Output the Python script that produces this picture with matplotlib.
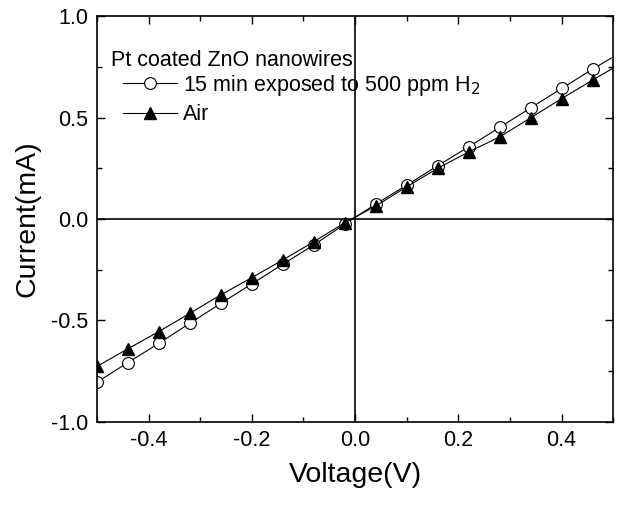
import matplotlib
matplotlib.use("Agg")
import matplotlib.pyplot as plt
from matplotlib.ticker import MultipleLocator

plt.rcParams['font.family'] = ['Liberation Sans', 'DejaVu Sans']
plt.rcParams['axes.unicode_minus'] = False

# voltage points (last point has no marker, line runs to the frame edge)
voltage = [-0.50, -0.44, -0.38, -0.32, -0.26, -0.20, -0.14, -0.08, -0.02,
           0.04, 0.10, 0.16, 0.22, 0.28, 0.34, 0.40, 0.46, 0.50]
current_h2 = [-0.805, -0.708, -0.613, -0.514, -0.416, -0.320, -0.223, -0.128, -0.025,
              0.074, 0.167, 0.263, 0.356, 0.452, 0.548, 0.644, 0.739, 0.800]
current_air = [-0.727, -0.640, -0.555, -0.465, -0.374, -0.289, -0.202, -0.112, -0.018,
               0.064, 0.159, 0.250, 0.331, 0.405, 0.499, 0.594, 0.685, 0.745]

legend_title = "Pt coated ZnO nanowires"
label_h2 = "15 min exposed to 500 ppm H$_2$"
label_air = "Air"

fig = plt.figure(figsize=(6.17, 5.07), dpi=100)
ax = fig.add_axes([0.157, 0.168, 0.837, 0.800])

marks = list(range(len(voltage) - 1))
ax.plot(voltage, current_h2, color="black", lw=0.8, marker="o", ms=8.5,
        mfc="white", mec="black", mew=0.8, markevery=marks, label=label_h2)
ax.plot(voltage, current_air, color="black", lw=0.8, marker="^", ms=9,
        mfc="black", mec="black", markevery=marks, label=label_air)

ax.axhline(0, color="black", lw=1.2, zorder=0)
ax.axvline(0, color="black", lw=1.2, zorder=0)

ax.set_xlim(-0.5, 0.5)
ax.set_ylim(-1.0, 1.0)
ax.xaxis.set_major_locator(MultipleLocator(0.2))
ax.xaxis.set_minor_locator(MultipleLocator(0.1))
ax.yaxis.set_major_locator(MultipleLocator(0.5))
ax.yaxis.set_minor_locator(MultipleLocator(0.25))
ax.tick_params(which="both", direction="in", top=True, right=True,
               labelsize=15.5, width=1.0)
ax.tick_params(which="major", length=6, pad=6)
ax.tick_params(which="minor", length=3.5)
for s in ax.spines.values():
    s.set_linewidth(1.2)

ax.set_xlabel("Voltage(V)", fontsize=20.5, labelpad=8)
ax.set_ylabel("Current(mA)", fontsize=20.5, labelpad=8)

ax.text(0.027, 0.892, legend_title, transform=ax.transAxes, fontsize=15.5,
        ha="left", va="center")
ax.legend(loc="upper left", bbox_to_anchor=(0.05, 0.86),
          frameon=False, fontsize=15.5, handlelength=2.5,
          handletextpad=0.3, labelspacing=0.3, borderaxespad=0, borderpad=0)

fig.savefig("out.png", dpi=100)
